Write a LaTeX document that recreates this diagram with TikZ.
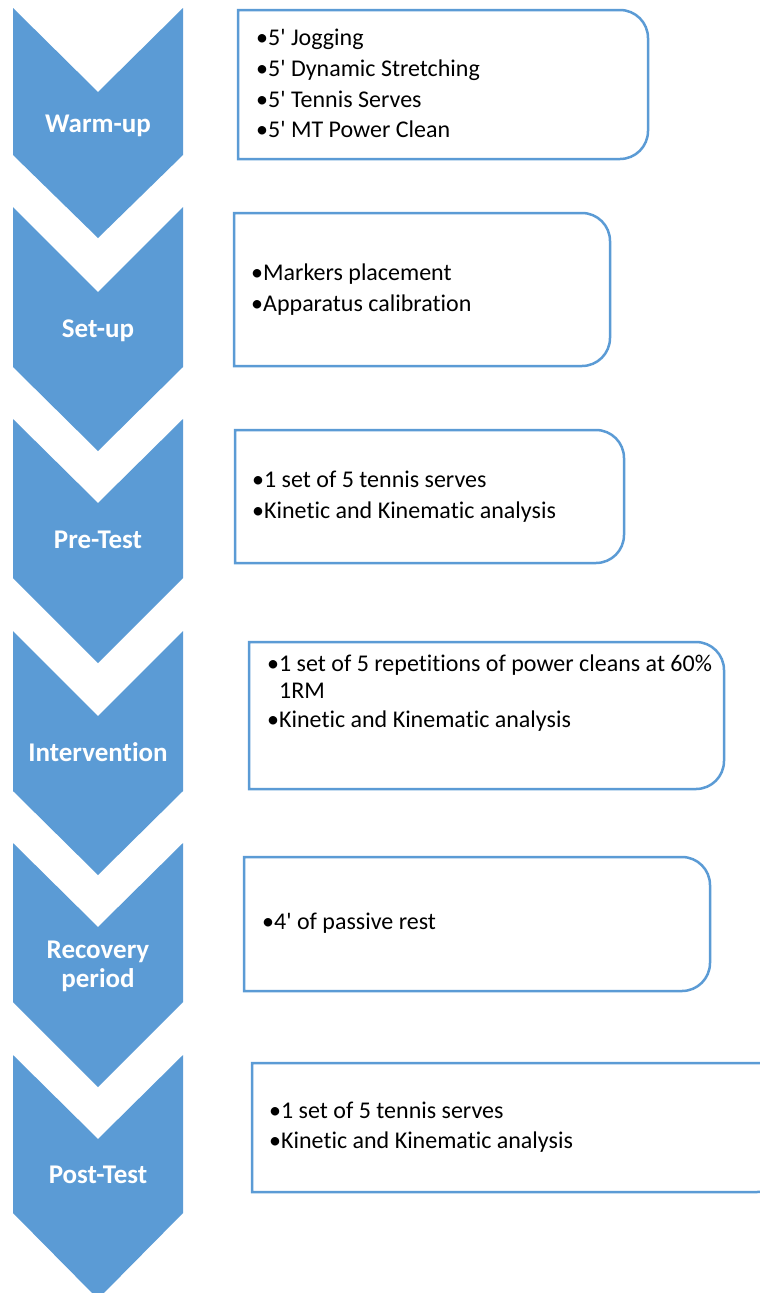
\documentclass[tikz,border=0pt]{standalone}
\usepackage{fontspec}
\setmainfont{Carlito}[Ligatures=NoCommon]
\definecolor{chevblue}{HTML}{5B9BD5}
\tikzset{
  chevron/.style={fill=chevblue},
  stagelabel/.style={text=white, font=\fontsize{27}{29}\selectfont\bfseries, align=center, inner sep=0pt, anchor=base},
  listbox/.style={draw=chevblue, line width=2.5pt, fill=white},
  listitem/.style={font=\fontsize{24}{27}\selectfont, anchor=base west, inner sep=0pt}
}
\begin{document}
\begin{tikzpicture}[x=1pt,y=-1pt]
          \clip (0,0) rectangle (760,1293);
          \foreach \t/\n/\s/\p in {8/92/155/238,207/292/367/451,419/503/578/663,631/716/791/875,843/927/1002/1087,1055/1139/1213/1299}{
            \fill[chevron] (13,\t) -- (98,\n) -- (183,\t) -- (183,\s) -- (98,\p) -- (13,\s) -- cycle;
          }
          \foreach \l/\t/\r/\b in {238/10/648/159,234/213/610/366,235/430/624/563,249/642/724/789,244/857/710/991,252/1063/785/1192}{
            \draw[listbox] (\l,\t) -- (\r-28,\t) arc[start angle=90,end angle=0,radius=28pt]
              -- (\r,\b-28) arc[start angle=0,end angle=-90,radius=28pt] -- (\l,\b) -- cycle;
          }
          \node[stagelabel] (warmup) at (98,132) {Warm-up};
          \node[stagelabel] (setup) at (98,337) {Set-up};
          \node[stagelabel] (pretest) at (98,548) {Pre-Test};
          \node[stagelabel] (interv) at (98,761) {Intervention};
          \node[stagelabel] (recov) at (98,987) {Recovery\\period};
          \node[stagelabel] (posttest) at (98,1183) {Post-Test};
          \node[listitem] (jog) at (256,45) {\textbullet5{\textquotesingle} Jogging};
          \node[listitem] (stretch) at (256,76) {\textbullet5{\textquotesingle} Dynamic Stretching};
          \node[listitem] (serves) at (256,107) {\textbullet5{\textquotesingle} Tennis Serves};
          \node[listitem] (clean) at (256,137) {\textbullet5{\textquotesingle} MT Power Clean};
          \node[listitem] (markers) at (251,280) {\textbullet Markers placement};
          \node[listitem] (calib) at (251,311) {\textbullet Apparatus calibration};
          \node[listitem] (preset) at (252,487) {\textbullet1 set of 5 tennis serves};
          \node[listitem] (prekin) at (252,518) {\textbullet Kinetic and Kinematic analysis};
          \node[listitem] (reps) at (267,671) {\textbullet\parbox[t]{440pt}{1 set of 5 repetitions of power cleans at 60\%\\1RM}};
          \node[listitem] (intkin) at (267,727) {\textbullet Kinetic and Kinematic analysis};
          \node[listitem] (rest) at (262,929) {\textbullet4{\textquotesingle} of passive rest};
          \node[listitem] (postset) at (269,1118) {\textbullet1 set of 5 tennis serves};
          \node[listitem] (postkin) at (269,1148) {\textbullet Kinetic and Kinematic analysis};
        \end{tikzpicture}
\end{document}
